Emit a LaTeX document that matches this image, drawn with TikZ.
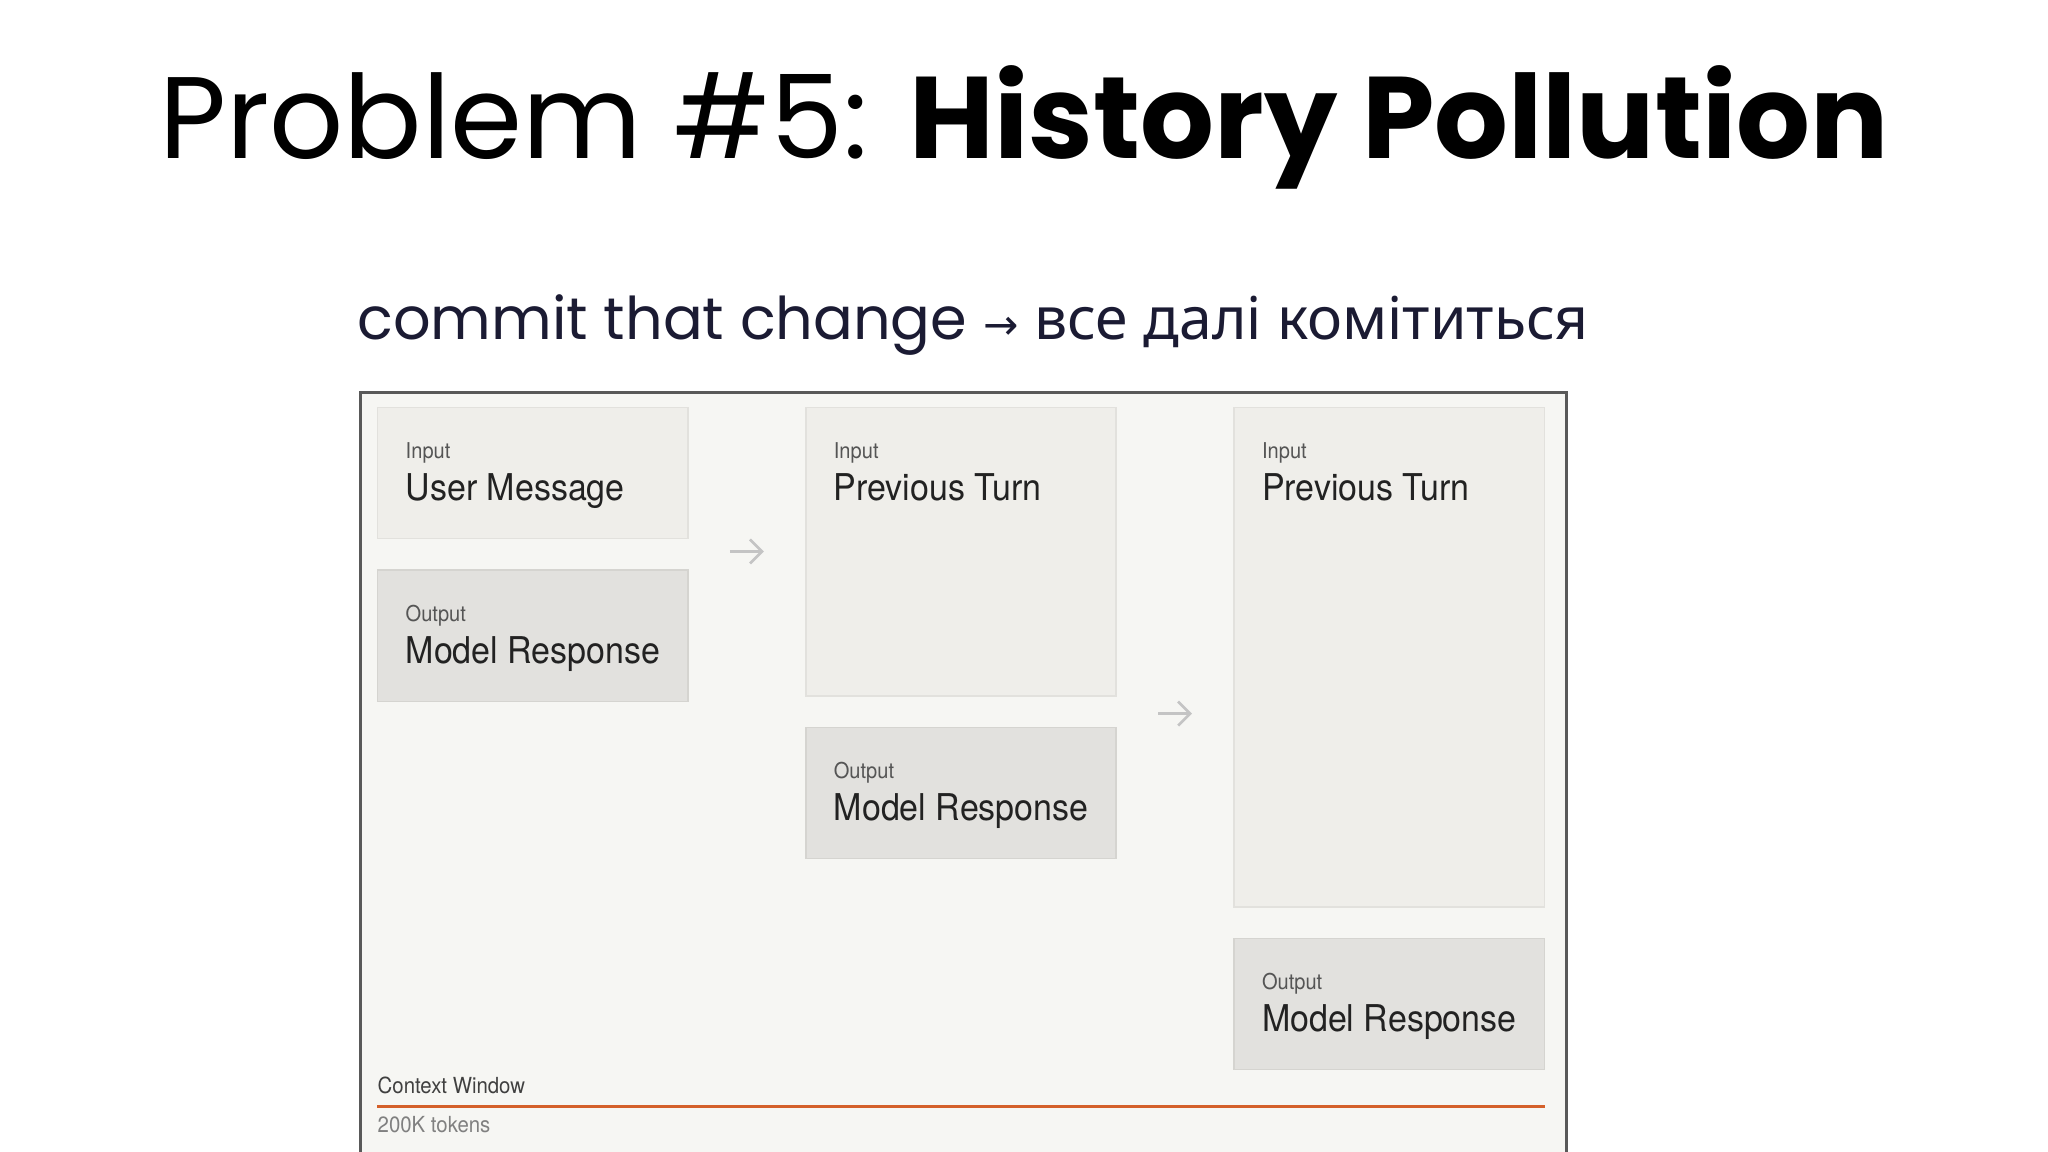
\documentclass[tikz,border=0pt]{standalone}
\usepackage{fontspec}
\setmainfont{TeX Gyre Heros}
\newfontfamily\titlefont{Poppins}
\newfontfamily\cyrfont{Noto Sans}
\newfontfamily\symfont{DejaVu Sans}
\newfontfamily\boxfont[FakeStretch=0.92]{TeX Gyre Heros}
\usepackage{xcolor}
\usetikzlibrary{calc}
\usetikzlibrary{positioning}
\usetikzlibrary{arrows.meta}
\definecolor{framegray}{HTML}{595959}
\definecolor{panel}{HTML}{F6F6F3}
\definecolor{infill}{HTML}{EFEEEA}
\definecolor{inedge}{HTML}{E2E1DD}
\definecolor{outfill}{HTML}{E2E1DE}
\definecolor{outedge}{HTML}{D5D4D0}
\definecolor{headtext}{HTML}{222222}
\definecolor{tagtext}{HTML}{555555}
\definecolor{arrowgray}{HTML}{C4C4C4}
\definecolor{ctxorange}{HTML}{D4602A}
\definecolor{subnavy}{HTML}{1B1B33}

\begin{document}
\begin{tikzpicture}[x=0.01cm, y=-0.01cm, node distance=0.3cm, font=\boxfont]
    \tikzstyle{panelbox}=[draw=framegray, fill=panel, line width=0.85pt, rectangle, inner sep=0pt, minimum width=12.05cm, minimum height=7.9cm]
    \tikzstyle{inbox}=[draw=inedge, fill=infill, line width=0.4pt, rectangle, inner sep=0pt, minimum width=3.1cm]
    \tikzstyle{outbox}=[draw=outedge, fill=outfill, line width=0.4pt, rectangle, inner sep=0pt, minimum width=3.1cm, minimum height=1.31cm]
    \tikzstyle{tag}=[anchor=base west, inner sep=0pt, text=tagtext, font=\boxfont\fontsize{6.2}{7}\selectfont]
    \tikzstyle{head}=[anchor=base west, inner sep=0pt, text=headtext, font=\boxfont\fontsize{10.5}{12}\selectfont]
    \tikzstyle{flow}=[draw=arrowgray, line width=0.75pt, -{Straight Barb[length=1.2mm, width=2.4mm]}]

    \useasboundingbox (0,0) rectangle (2048,1152);
    \fill[white] (0,0) rectangle (2048,1152);

    %% Headings
    \node[anchor=base, inner sep=0pt, font=\titlefont\fontsize{33}{40}\selectfont] (title) at (1024,159) {Problem \#5: {\bfseries History Pollution}};
    \node[anchor=base, inner sep=0pt, text=subnavy, font=\titlefont\fontsize{16.75}{20}\selectfont] (sub) at (973,340)
        {commit that change {\symfont\fontsize{12}{14}\selectfont →} {\cyrfont все далі комітиться}};

    %% Context window panel
    \node[panelbox, anchor=north west] (frame) at (359,391) {};

    %% Turn 1
    \node[inbox, minimum height=1.31cm, anchor=north west] (in1) at (377,407) {};
    \node[outbox, below=of in1] (out1) {};
    \node[tag] (in1t) at ($(in1.north west)+(28,52)$) {Input};
    \node[head] (in1h) at ($(in1.north west)+(28,94)$) {User Message};
    \node[tag] (out1t) at ($(out1.north west)+(28,52)$) {Output};
    \node[head] (out1h) at ($(out1.north west)+(28,94)$) {Model Response};

    %% Turn 2
    \node[inbox, minimum height=2.88cm, below right=0cm and 1.165cm of in1.north east] (in2) {};
    \node[outbox, below=of in2] (out2) {};
    \node[tag] (in2t) at ($(in2.north west)+(28,52)$) {Input};
    \node[head] (in2h) at ($(in2.north west)+(28,94)$) {Previous Turn};
    \node[tag] (out2t) at ($(out2.north west)+(28,52)$) {Output};
    \node[head] (out2h) at ($(out2.north west)+(28,94)$) {Model Response};

    %% Turn 3
    \node[inbox, minimum height=4.99cm, below right=0cm and 1.165cm of in2.north east] (in3) {};
    \node[outbox, below=of in3] (out3) {};
    \node[tag] (in3t) at ($(in3.north west)+(28,52)$) {Input};
    \node[head] (in3h) at ($(in3.north west)+(28,94)$) {Previous Turn};
    \node[tag] (out3t) at ($(out3.north west)+(28,52)$) {Output};
    \node[head] (out3h) at ($(out3.north west)+(28,94)$) {Model Response};

    %% Arrows in the gaps
    \coordinate (g1) at ($(in1.south east)!0.5!(in2.west |- out1.north)$);
    \coordinate (g2) at ($(in2.south east)!0.5!(in3.west |- out2.north)$);
    \draw[flow] ($(g1)+(-17,-3)$) -- ($(g1)+(17,-3)$);
    \draw[flow] ($(g2)+(-17,2)$) -- ($(g2)+(17,2)$);

    %% Token bar
    \coordinate (cl) at (in1.west |- 0,1106);
    \coordinate (cr) at (in3.east |- cl);
    \draw[ctxorange, line width=0.85pt] (cl) -- (cr);
    \node[anchor=base west, inner sep=0pt, text=black!75, font=\boxfont\fontsize{6.3}{7}\selectfont] (ctx) at ($(cl)+(0,-13)$) {Context Window};
    \node[anchor=base west, inner sep=0pt, text=black!50, font=\boxfont\fontsize{6.3}{7}\selectfont] (tok) at ($(cl)+(0,26)$) {200K tokens};
\end{tikzpicture}
\end{document}
